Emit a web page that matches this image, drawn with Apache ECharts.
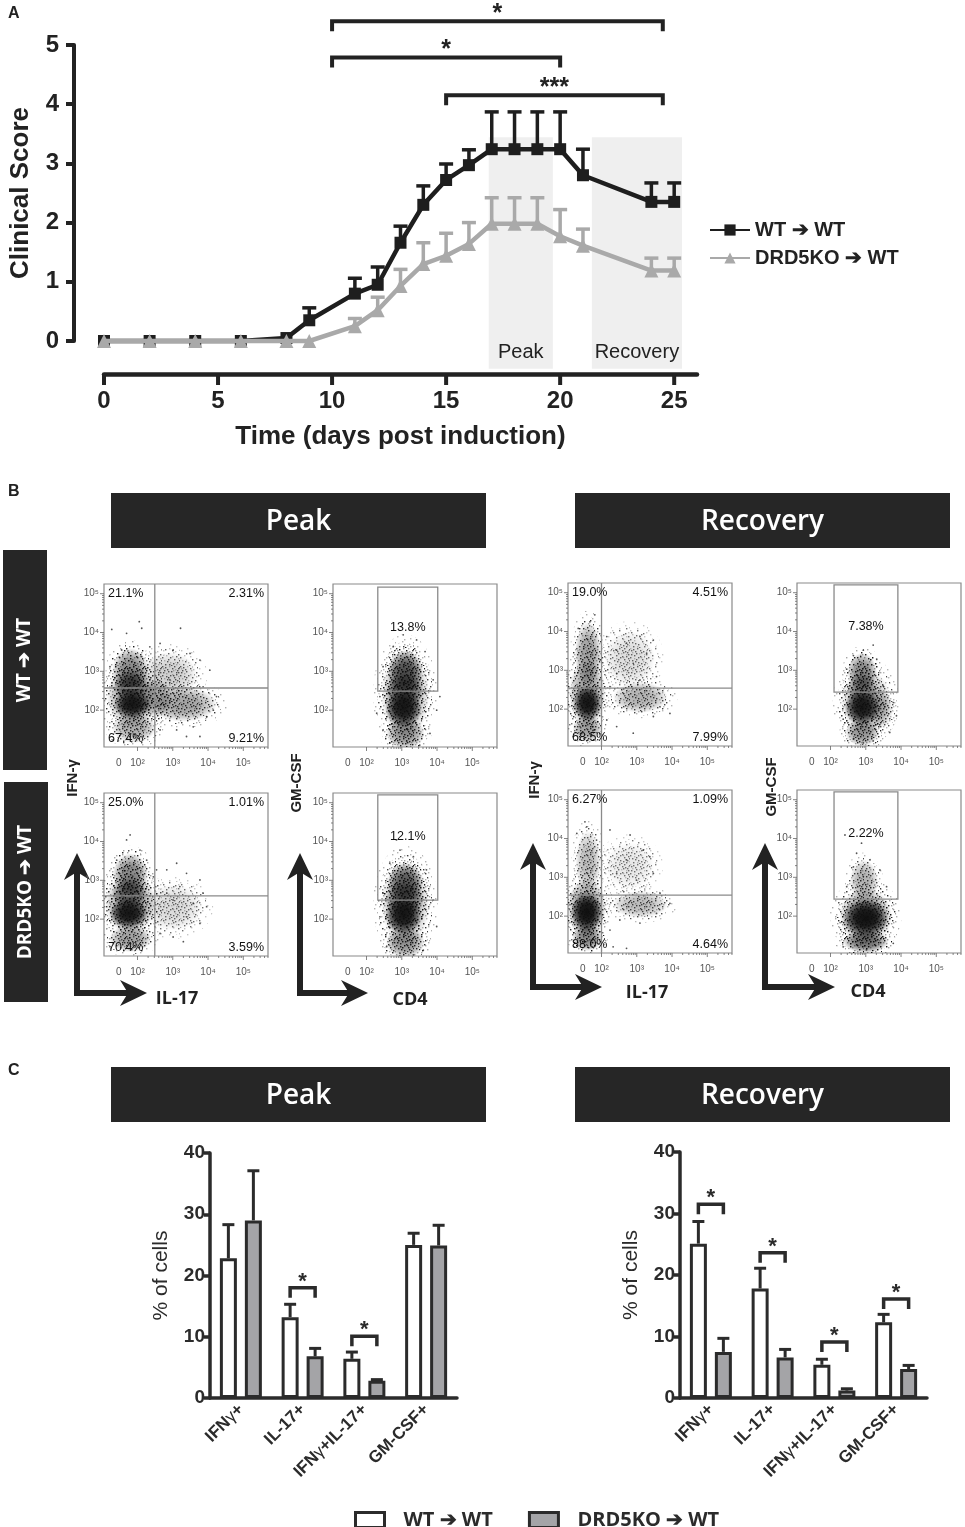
<!DOCTYPE html>
<html>
<head>
<meta charset="utf-8">
<script src="https://cdn.jsdelivr.net/npm/echarts@6.0.0/dist/echarts.min.js"></script>
<style>
html,body{margin:0;padding:0;background:#fff;}
#chart{width:965px;height:1527px;}
</style>
</head>
<body>
<div id="chart"></div>
<script>
// ================= DATA =================
// Panel A: clinical score (mean and upper error)
const scoreDays    = [0,2,4,6,8,9,11,12,13,14,15,16,17,18,19,20,21,24,25];
const wtScore      = [0,0,0,0,0.05,0.35,0.80,0.95,1.66,2.30,2.72,2.97,3.24,3.24,3.24,3.24,2.80,2.35,2.35];
const wtScoreUpper = [0,0,0,0,0.05,0.56,1.06,1.25,1.94,2.62,2.99,3.23,3.87,3.87,3.87,3.87,3.24,2.67,2.67];
const koScore      = [0,0,0,0,0,0,0.25,0.52,0.93,1.30,1.44,1.64,1.98,1.98,1.98,1.77,1.61,1.19,1.19];
const koScoreUpper = [0,0,0,0,0,0,0.38,0.74,1.21,1.66,1.82,2.00,2.42,2.42,2.42,2.22,1.89,1.40,1.40];
const dayTicks     = [0,5,10,15,20,25];
const phaseWindows = [[16.87,19.68],[21.39,25.34]];
const phaseNames   = ['Peak','Recovery'];
const phaseSpan    = [-0.47,3.44];
const scoreBrackets = [[10,24.5,5.40],[10,20,4.79],[15,24.5,4.15]];
const scoreBracketText = ['*','*','***'];
const seriesNames = ['WT ➔ WT','DRD5KO ➔ WT'];

// Panel B: flow cytometry (pseudo-log axis units: 2 = 10^2 ...)
const flowXRange = [1.05,5.7];
const flowYRange = [1.05,5.25];
const flowXTicks = [1.47,2,3,4,5];
const flowXTickText = ['0','10²','10³','10⁴','10⁵'];
const flowYTicks = [2,3,4,5];
const flowYTickText = ['10²','10³','10⁴','10⁵'];

const quadPeakWT = [2.49,2.57];
const quadPeakKO = [2.49,2.60];
const quadRecWT  = [2.00,2.54];
const quadRecKO  = [2.00,2.54];
const pctPeakWT  = ['21.1%','2.31%','67.4%','9.21%'];
const pctPeakKO  = ['25.0%','1.01%','70.4%','3.59%'];
const pctRecWT   = ['19.0%','4.51%','68.5%','7.99%'];
const pctRecKO   = ['6.27%','1.09%','88.0%','4.64%'];
const gatePeakWT = [2.32,4.02,2.49,5.17];
const gatePeakKO = [2.32,4.02,2.49,5.20];
const gateRecWT  = [2.10,3.91,2.44,5.20];
const gateRecKO  = [2.10,3.91,2.44,5.20];
const gatePct    = ['13.8%','12.1%','7.38%','2.22%'];
const gateLabelY = 4.14;

// density clouds: [centreX, centreY, spreadX, spreadY, density]
const blobsPeakWTIfn = [[1.85,2.15,0.52,0.38,0.95],[1.85,2.35,0.72,0.8,0.4],[1.82,2.6,0.5,0.4,0.6],[1.8,3.0,0.52,0.6,0.5],[3.3,2.15,0.95,0.45,0.38],[2.9,2.9,0.8,0.6,0.2],[1.9,1.55,0.62,0.4,0.35],[2.5,2.3,0.5,0.5,0.35]];
const blobsPeakKOIfn = [[1.75,2.15,0.55,0.4,0.95],[1.8,2.4,0.72,0.8,0.4],[1.78,2.65,0.5,0.4,0.55],[1.8,3.15,0.5,0.55,0.5],[3.0,2.3,0.85,0.6,0.15],[1.8,1.5,0.6,0.35,0.4]];
const blobsPeakWTGm  = [[3.05,2.05,0.52,0.5,0.95],[3.1,2.95,0.5,0.6,0.65],[3.08,2.5,0.55,0.45,0.6],[3.1,2.4,0.68,1.15,0.35],[3.1,1.4,0.55,0.4,0.45]];
const blobsPeakKOGm  = [[3.05,2.1,0.52,0.5,0.95],[3.1,2.9,0.5,0.55,0.6],[3.08,2.5,0.55,0.45,0.55],[3.1,2.4,0.68,1.1,0.35],[3.1,1.4,0.55,0.4,0.45]];
const blobsRecWTIfn  = [[1.6,2.15,0.4,0.47,0.95],[1.6,2.4,0.52,0.9,0.4],[1.62,3.4,0.38,0.85,0.4],[3.1,2.3,0.78,0.4,0.32],[2.8,3.3,0.72,0.72,0.14],[1.6,1.5,0.42,0.35,0.4]];
const blobsRecKOIfn  = [[1.58,2.1,0.44,0.52,1.0],[1.58,2.2,0.55,0.78,0.45],[1.62,3.4,0.36,0.8,0.28],[3.1,2.3,0.78,0.35,0.28],[2.8,3.3,0.7,0.6,0.1],[1.6,1.45,0.43,0.35,0.5]];
const blobsRecWTGm   = [[2.9,2.05,0.5,0.47,0.95],[2.9,2.5,0.43,0.4,0.45],[2.9,2.95,0.42,0.5,0.5],[3.0,2.2,0.7,0.85,0.32],[2.9,1.4,0.48,0.35,0.45],[3.4,2.0,0.38,0.5,0.28]];
const blobsRecKOGm   = [[3.0,1.95,0.65,0.5,1.0],[3.0,2.0,0.75,0.72,0.45],[2.95,2.9,0.4,0.55,0.32],[3.0,1.35,0.65,0.3,0.6]];

// sparse events
const dotsPeakWTIfn = [[1.27,4.08],[2.05,4.28],[2.12,4.11],[1.69,3.98],[3.22,4.11],[2.64,3.72],[3.01,3.55],[3.49,3.46],[3.77,3.29],[4.05,3.03],[4.24,2.35],[4.15,2.0],[3.96,1.83],[3.58,1.57],[3.39,1.32],[3.11,1.49],[3.77,1.32],[1.31,1.23],[2.16,1.32],[2.12,3.38],[2.64,1.49],[3.86,2.6],[2.92,2.78],[2.35,3.63],[1.55,3.55],[1.22,3.12]];
const dotsPeakKOIfn = [[1.79,4.17],[1.69,4.04],[2.07,3.78],[2.26,3.52],[2.54,3.27],[2.83,3.27],[3.11,3.44],[3.39,3.18],[3.77,3.01],[3.2,2.84],[3.01,2.49],[3.58,2.41],[3.96,2.32],[3.39,2.06],[3.77,1.89],[3.01,1.54],[3.3,1.42],[2.64,1.63],[1.22,1.29],[2.45,3.09],[1.41,3.52],[2.83,2.67],[3.86,2.67]];
const dotsPeakWTGm  = [[3.04,3.94],[3.42,3.81],[2.76,3.64],[3.66,3.51],[2.47,3.12],[3.89,2.78],[2.38,2.35],[3.99,2.0],[2.47,1.49],[3.8,1.4],[2.66,1.15],[3.51,1.1],[3.14,1.19],[2.29,1.92],[4.08,2.35]];
const dotsPeakKOGm  = [[2.95,3.78],[3.33,3.61],[2.66,3.44],[3.7,3.27],[2.47,2.67],[3.89,2.49],[2.38,2.06],[3.99,1.81],[2.57,1.29],[3.61,1.2],[2.95,1.12],[3.33,1.08],[2.85,4.04]];
const dotsRecWTIfn  = [[1.81,4.43],[1.67,4.25],[1.34,4.08],[2.15,3.87],[2.43,3.52],[2.71,3.7],[3.09,3.87],[3.47,3.78],[3.28,3.44],[2.9,3.18],[2.43,2.92],[3.56,2.84],[3.66,2.06],[3.47,1.81],[3.94,1.89],[2.9,1.38],[2.43,1.55],[2.15,1.72],[1.39,1.55],[1.77,1.46],[2.24,2.58],[3.09,2.75],[1.96,3.27]];
const dotsRecKOIfn  = [[1.53,4.43],[1.58,4.3],[1.86,3.96],[2.24,4.22],[2.81,4.09],[3.18,3.7],[3.37,3.53],[2.71,3.45],[2.43,3.1],[3.47,3.1],[2.99,2.93],[3.66,2.59],[3.94,2.33],[3.56,2.07],[3.09,1.82],[2.52,1.9],[2.24,1.64],[2.71,1.17],[2.33,1.21],[1.3,4.13]];
const dotsRecWTGm   = [[3.21,3.65],[2.93,3.52],[2.65,3.38],[3.31,3.29],[2.46,3.03],[3.49,2.6],[3.78,2.17],[3.87,1.83],[2.36,1.74],[2.65,1.23],[3.21,1.18],[3.68,1.4],[2.93,1.13]];
const dotsRecKOGm   = [[2.41,4.09],[2.88,3.88],[2.74,3.62],[3.12,3.45],[2.65,3.27],[3.4,3.19],[2.93,3.02],[3.59,2.76],[2.46,2.76],[2.36,1.21],[3.78,1.3],[3.02,1.13]];

// Panel C: % of cells (mean and upper error)
const cellCats    = ['IFNγ+','IL-17+','IFNγ+IL-17+','GM-CSF+'];
const peakWT      = [22.8,13.2,6.4,25.0];
const peakWTUpper = [28.3,15.3,7.5,26.9];
const peakKO      = [29.0,6.8,2.8,24.9];
const peakKOUpper = [37.1,8.1,3.0,28.2];
const recWT       = [25.1,17.8,5.4,12.3];
const recWTUpper  = [28.7,21.1,6.3,13.6];
const recKO       = [7.5,6.6,1.2,4.7];
const recKOUpper  = [9.7,7.9,1.5,5.3];
const peakSig = [[1,18.0],[2,10.1]];
const recSig  = [[0,31.5],[1,23.6],[2,9.1],[3,16.1]];
const barLegendNames = ['WT ➔ WT ','DRD5KO ➔ WT '];

// ================= STYLE =================
const FS = "'Liberation Sans',Arial,sans-serif";
const FO = "'Open Sans','Noto Sans',sans-serif";
const INK = '#222';
const BARINK = '#2b2b2b';

// fixed stipple tiles giving the cytometry clouds their dotted texture
function makeTile(pts){
  const c = document.createElement('canvas'); c.width = 18; c.height = 18;
  const g = c.getContext('2d'); g.fillStyle = 'rgba(15,15,15,1)';
  pts.forEach(p => g.fillRect(p[0], p[1], 1.4, 1.4));
  return c;
}
const speckleTiles = [
  makeTile([[1,2],[7,0],[13,3],[4,7],[10,8],[16,10],[2,12],[8,14],[14,16],[11,4]]),
  makeTile([[3,1],[10,2],[16,6],[6,5],[0,9],[12,11],[5,13],[9,17],[15,14],[17,1]]),
  makeTile([[5,3],[12,0],[1,6],[8,9],[14,8],[3,16],[11,15],[17,12],[6,11],[15,4]]),
  makeTile([[0,0],[9,5],[4,10],[13,13],[7,16],[16,2],[2,4],[11,9],[17,15],[14,6]])
];

const chart = echarts.init(document.getElementById('chart'), null, {renderer:'canvas', width:965, height:1527});

const grids = [], xAxes = [], yAxes = [], series = [];

// ---------- Panel A ----------
const AX_OFFSET = 33;
grids.push({left:103, top:45, width:594, height:296});
xAxes.push({gridIndex:0, type:'value', min:0, max:26, interval:5, offset:AX_OFFSET,
  axisLine:{onZero:false, lineStyle:{color:INK,width:4.5}}, axisTick:{show:false},
  splitLine:{show:false},
  axisLabel:{fontFamily:FS, fontWeight:'bold', fontSize:24, color:INK, margin:15,
    formatter:v => (dayTicks.indexOf(v) >= 0) ? String(v) : ''},
  name:'Time (days post induction)', nameLocation:'middle', nameGap:50,
  nameTextStyle:{fontFamily:FS, fontWeight:'bold', fontSize:26, color:INK}});
yAxes.push({gridIndex:0, type:'value', min:0, max:5, interval:1, offset:30,
  axisLine:{show:true, onZero:false, lineStyle:{color:INK,width:4}}, axisTick:{show:true,length:8,lineStyle:{color:INK,width:4}},
  splitLine:{show:false},
  axisLabel:{fontFamily:FS, fontWeight:'bold', fontSize:24, color:INK, margin:15},
  name:'Clinical Score', nameLocation:'middle', nameGap:40, nameRotate:90,
  nameTextStyle:{fontFamily:FS, fontWeight:'bold', fontSize:26, color:INK}});

// x ticks of the detached time axis
series.push({type:'custom', xAxisIndex:0, yAxisIndex:0, silent:true, clip:false, z:1,
  data: dayTicks.map(d => [d, 0]),
  renderItem:(params, api) => {
    const p = api.coord([api.value(0), 0]);
    const y = p[1] + AX_OFFSET;
    return {type:'line', shape:{x1:p[0], y1:y, x2:p[0], y2:y+11}, style:{stroke:INK, lineWidth:4}};
  }});

series.push({type:'custom', xAxisIndex:0, yAxisIndex:0, silent:true, clip:false, z:1,
  data: phaseWindows.map(w => [w[0], w[1]]),
  renderItem:(params, api) => {
    const a = api.coord([api.value(0), phaseSpan[1]]);
    const b = api.coord([api.value(1), phaseSpan[0]]);
    const m = api.coord([(api.value(0)+api.value(1))/2, -0.2]);
    return {type:'group', children:[
      {type:'rect', shape:{x:a[0], y:a[1], width:b[0]-a[0], height:b[1]-a[1]}, style:{fill:'#efefef'}},
      {type:'text', x:m[0], y:m[1], style:{text:phaseNames[params.dataIndex], fill:INK, font:'20px '+FS, align:'center', verticalAlign:'middle'}}
    ]};
  }});

function scoreErr(color){
  return (params, api) => {
    const p0 = api.coord([api.value(0), api.value(1)]);
    const p1 = api.coord([api.value(0), api.value(2)]);
    return {type:'group', children:[
      {type:'line', shape:{x1:p0[0],y1:p0[1],x2:p1[0],y2:p1[1]}, style:{stroke:color,lineWidth:3.5}},
      {type:'line', shape:{x1:p1[0]-7,y1:p1[1],x2:p1[0]+7,y2:p1[1]}, style:{stroke:color,lineWidth:3.5}}
    ]};
  };
}
const WTC = '#1e1e1e', KOC = '#a9a9a9';
series.push({type:'custom', xAxisIndex:0, yAxisIndex:0, silent:true, clip:false, z:2,
  data: scoreDays.map((d,i)=>[d, wtScore[i], wtScoreUpper[i]]).filter(r => r[2] > r[1]),
  renderItem: scoreErr(WTC)});
series.push({type:'custom', xAxisIndex:0, yAxisIndex:0, silent:true, clip:false, z:2,
  data: scoreDays.map((d,i)=>[d, koScore[i], koScoreUpper[i]]).filter(r => r[2] > r[1]),
  renderItem: scoreErr(KOC)});
series.push({type:'line', name:seriesNames[0], xAxisIndex:0, yAxisIndex:0, z:3, clip:false,
  data: scoreDays.map((d,i)=>[d, wtScore[i]]), symbol:'rect', symbolSize:12, showAllSymbol:true,
  lineStyle:{color:WTC,width:4.5}, itemStyle:{color:WTC}});
series.push({type:'line', name:seriesNames[1], xAxisIndex:0, yAxisIndex:0, z:4, clip:false,
  data: scoreDays.map((d,i)=>[d, koScore[i]]), symbol:'triangle', symbolSize:14, showAllSymbol:true,
  lineStyle:{color:KOC,width:4.5}, itemStyle:{color:KOC}});
series.push({type:'custom', xAxisIndex:0, yAxisIndex:0, silent:true, clip:false, z:5,
  data: scoreBrackets,
  renderItem:(params, api) => {
    const a = api.coord([api.value(0), api.value(2)]);
    const b = api.coord([api.value(1), api.value(2)]);
    const y = a[1];
    return {type:'group', children:[
      {type:'polyline', shape:{points:[[a[0],y+10],[a[0],y],[b[0],y],[b[0],y+10]]}, style:{stroke:INK,lineWidth:4,fill:null}},
      {type:'text', x:(a[0]+b[0])/2, y:y+5, style:{text:scoreBracketText[params.dataIndex], fill:INK, font:'bold 25px '+FS, align:'center', verticalAlign:'bottom'}}
    ]};
  }});

// ---------- Panel B ----------
const flowLayout = [[104,584],[333,584],[568,583],[797,583],[104,793],[333,793],[568,790],[797,790]];
const flowCfg = [
  {kind:'quad', cut:quadPeakWT, pct:pctPeakWT, blobs:blobsPeakWTIfn, dots:dotsPeakWTIfn},
  {kind:'gate', cut:gatePeakWT, pct:gatePct[0], blobs:blobsPeakWTGm, dots:dotsPeakWTGm},
  {kind:'quad', cut:quadRecWT, pct:pctRecWT, blobs:blobsRecWTIfn, dots:dotsRecWTIfn},
  {kind:'gate', cut:gateRecWT, pct:gatePct[2], blobs:blobsRecWTGm, dots:dotsRecWTGm},
  {kind:'quad', cut:quadPeakKO, pct:pctPeakKO, blobs:blobsPeakKOIfn, dots:dotsPeakKOIfn},
  {kind:'gate', cut:gatePeakKO, pct:gatePct[1], blobs:blobsPeakKOGm, dots:dotsPeakKOGm},
  {kind:'quad', cut:quadRecKO, pct:pctRecKO, blobs:blobsRecKOIfn, dots:dotsRecKOIfn},
  {kind:'gate', cut:gateRecKO, pct:gatePct[3], blobs:blobsRecKOGm, dots:dotsRecKOGm}
];

function blobRender(params, api){
  const cx = api.value(0), cy = api.value(1), d = api.value(4);
  const c = api.coord([cx, cy]);
  const e = api.coord([cx + api.value(2), cy + api.value(3)]);
  const sx = Math.abs(e[0]-c[0]), sy = Math.abs(c[1]-e[1]);
  const k = params.dataIndex;
  const op = Math.min(1, d + 0.45);
  const sp = (f, t, o) => ({type:'ellipse', silent:true, shape:{cx:c[0], cy:c[1], rx:sx*f, ry:sy*f},
    style:{fill:{image:speckleTiles[t], repeat:'repeat'}, opacity:o}});
  const a = Math.min(1, d * 1.02);
  return {type:'group', children:[
    {type:'circle', x:c[0], y:c[1], scaleX:sx, scaleY:sy, shape:{cx:0,cy:0,r:1}, silent:true,
      style:{fill:new echarts.graphic.RadialGradient(0.5,0.5,0.5,[
        {offset:0, color:'rgba(15,15,15,'+a.toFixed(3)+')'},
        {offset:0.45, color:'rgba(15,15,15,'+(a*0.9).toFixed(3)+')'},
        {offset:0.75, color:'rgba(15,15,15,'+(a*0.5).toFixed(3)+')'},
        {offset:1, color:'rgba(15,15,15,0)'}])}},
    sp(1.35, (k+3) % 4, op*0.4), sp(1.15, k % 4, op), sp(0.9, (k+1) % 4, op), sp(0.6, (k+2) % 4, op)
  ]};
}

function flowDeco(cfg){
  return (params, api) => {
    const cs = params.coordSys;
    const L = cs.x, T = cs.y, R = cs.x + cs.width, B = cs.y + cs.height;
    const gray = '#8a8a8a';
    const ch = [];
    const lab = (x, y, t, align, va, size, color) => ({type:'text', x:x, y:y, silent:true,
      style:{text:t, fill:color || '#111', font:(size || 12.5) + 'px ' + FS, align:align, verticalAlign:va}});
    if (cfg.kind === 'quad'){
      const vx = api.coord([cfg.cut[0], flowYRange[0]])[0];
      const hy = api.coord([flowXRange[0], cfg.cut[1]])[1];
      ch.push({type:'line', shape:{x1:vx,y1:T,x2:vx,y2:B}, style:{stroke:gray,lineWidth:1.3}});
      ch.push({type:'line', shape:{x1:L,y1:hy,x2:R,y2:hy}, style:{stroke:gray,lineWidth:1.3}});
      ch.push(lab(L+4, T+3, cfg.pct[0], 'left', 'top'));
      ch.push(lab(R-4, T+3, cfg.pct[1], 'right', 'top'));
      ch.push(lab(L+4, B-2, cfg.pct[2], 'left', 'bottom'));
      ch.push(lab(R-4, B-2, cfg.pct[3], 'right', 'bottom'));
    } else {
      const p1 = api.coord([cfg.cut[0], cfg.cut[3]]);
      const p2 = api.coord([cfg.cut[1], cfg.cut[2]]);
      ch.push({type:'rect', shape:{x:p1[0], y:p1[1], width:p2[0]-p1[0], height:p2[1]-p1[1]}, style:{fill:'none', stroke:gray, lineWidth:1.3}});
      const pl = api.coord([(cfg.cut[0]+cfg.cut[1])/2, gateLabelY]);
      ch.push(lab(pl[0], pl[1], cfg.pct, 'center', 'middle'));
    }
    flowXTicks.forEach((v, i) => {
      const x = api.coord([v, flowYRange[0]])[0];
      ch.push(lab(x, B+11, flowXTickText[i], 'center', 'top', 10, '#555'));
    });
    flowYTicks.forEach((v, i) => {
      const y = api.coord([flowXRange[0], v])[1];
      ch.push(lab(L-5, y, flowYTickText[i], 'right', 'middle', 10, '#555'));
    });
    for (let dec = 2; dec <= 5; dec++){
      for (let k = 1; k <= 9; k++){
        const v = dec + Math.log10(k);
        const len = k === 1 ? 4 : 2;
        if (v <= flowYRange[1]){
          const y = api.coord([flowXRange[0], v])[1];
          ch.push({type:'line', shape:{x1:L-len,y1:y,x2:L,y2:y}, style:{stroke:'#666',lineWidth:0.8}});
        }
        if (v <= flowXRange[1]){
          const x = api.coord([v, flowYRange[0]])[0];
          ch.push({type:'line', shape:{x1:x,y1:B,x2:x,y2:B+len}, style:{stroke:'#666',lineWidth:0.8}});
        }
      }
    }
    return {type:'group', children:ch};
  };
}

flowCfg.forEach((cfg, i) => {
  const gi = grids.length;
  grids.push({left:flowLayout[i][0], top:flowLayout[i][1], width:164, height:163, show:true, borderColor:'#8a8a8a', borderWidth:1.2});
  xAxes.push({gridIndex:gi, type:'value', min:flowXRange[0], max:flowXRange[1], show:false});
  yAxes.push({gridIndex:gi, type:'value', min:flowYRange[0], max:flowYRange[1], show:false});
  series.push({type:'custom', xAxisIndex:gi, yAxisIndex:gi, silent:true, clip:true, z:1, data:cfg.blobs, renderItem:blobRender});
  series.push({type:'scatter', xAxisIndex:gi, yAxisIndex:gi, silent:true, z:2, data:cfg.dots, symbolSize:1.8, itemStyle:{color:'#2a2a2a'}});
  series.push({type:'custom', xAxisIndex:gi, yAxisIndex:gi, silent:true, clip:false, z:3, data:[[flowXRange[0], flowYRange[0]]], renderItem:flowDeco(cfg)});
});

// ---------- Panel C ----------
function barErr(offset){
  return (params, api) => {
    const c0 = api.coord([api.value(0), api.value(1)]);
    const c1 = api.coord([api.value(0), api.value(2)]);
    const x = c0[0] + offset;
    return {type:'group', children:[
      {type:'line', shape:{x1:x,y1:c0[1],x2:x,y2:c1[1]}, style:{stroke:BARINK,lineWidth:3}},
      {type:'line', shape:{x1:x-6,y1:c1[1],x2:x+6,y2:c1[1]}, style:{stroke:BARINK,lineWidth:3}}
    ]};
  };
}
function sigRender(half){
  return (params, api) => {
    const c = api.coord([api.value(0), api.value(1)]);
    const x1 = c[0]-half, x2 = c[0]+half, y = c[1];
    return {type:'group', children:[
      {type:'polyline', shape:{points:[[x1,y+10],[x1,y],[x2,y],[x2,y+10]]}, style:{stroke:BARINK,lineWidth:3.5,fill:null}},
      {type:'text', x:(x1+x2)/2, y:y+5, style:{text:'*', fill:BARINK, font:'bold 22px '+FS, align:'center', verticalAlign:'bottom'}}
    ]};
  };
}
const barPanels = [
  {grid:{left:210, top:1153, width:247, height:245}, wt:peakWT, wtU:peakWTUpper, ko:peakKO, koU:peakKOUpper, sig:peakSig},
  {grid:{left:680, top:1152, width:247, height:246}, wt:recWT, wtU:recWTUpper, ko:recKO, koU:recKOUpper, sig:recSig}
];
barPanels.forEach(p => {
  const gi = grids.length;
  grids.push(p.grid);
  xAxes.push({gridIndex:gi, type:'category', data:cellCats,
    axisLine:{lineStyle:{color:BARINK,width:3.5}},
    axisTick:{alignWithLabel:true, length:7, lineStyle:{color:BARINK,width:3.5}},
    axisLabel:{interval:0, rotate:45, fontFamily:FS, fontWeight:'bold', fontSize:17, color:BARINK, margin:9,
      formatter:v => v.replace(/γ/g, '{g|γ}'),
      rich:{g:{fontFamily:FS, fontWeight:'normal', fontSize:17, color:BARINK}}}});
  yAxes.push({gridIndex:gi, type:'value', min:0, max:40, interval:10,
    axisLine:{show:true, lineStyle:{color:BARINK,width:3.5}},
    axisTick:{show:true, length:6, lineStyle:{color:BARINK,width:3.5}},
    splitLine:{show:false},
    axisLabel:{fontFamily:FS, fontWeight:'bold', fontSize:19, color:BARINK, margin:5},
    name:'% of cells', nameLocation:'middle', nameRotate:90, nameGap:38,
    nameTextStyle:{fontFamily:FS, fontSize:21, color:BARINK}});
  series.push({type:'bar', name:barLegendNames[0], xAxisIndex:gi, yAxisIndex:gi, data:p.wt, barWidth:17, barGap:'47%', z:2,
    itemStyle:{color:'#ffffff', borderColor:BARINK, borderWidth:3}});
  series.push({type:'bar', name:barLegendNames[1], xAxisIndex:gi, yAxisIndex:gi, data:p.ko, barWidth:17, barGap:'47%', z:2,
    itemStyle:{color:'#a4a4a7', borderColor:BARINK, borderWidth:3}});
  series.push({type:'custom', xAxisIndex:gi, yAxisIndex:gi, silent:true, clip:false, z:1,
    data:cellCats.map((c,i)=>[i, p.wt[i], p.wtU[i]]), renderItem:barErr(-12.5)});
  series.push({type:'custom', xAxisIndex:gi, yAxisIndex:gi, silent:true, clip:false, z:1,
    data:cellCats.map((c,i)=>[i, p.ko[i], p.koU[i]]), renderItem:barErr(12.5)});
  series.push({type:'custom', xAxisIndex:gi, yAxisIndex:gi, silent:true, clip:false, z:3,
    data:p.sig, renderItem:sigRender(12.5)});
});

// ---------- decorations ----------
const graphics = [];
[['A',8,6],['B',8,484],['C',8,1063]].forEach(t => graphics.push({type:'text', left:t[1], top:t[2],
  style:{text:t[0], fill:INK, font:'bold 16px '+FS}}));
[[111,493,'Peak'],[575,493,'Recovery'],[111,1067,'Peak'],[575,1067,'Recovery']].forEach(h => {
  graphics.push({type:'rect', shape:{x:h[0], y:h[1], width:375, height:55}, style:{fill:'#262626'}});
  graphics.push({type:'text', x:h[0]+187.5, y:h[1]+29, style:{text:h[2], fill:'#fff', font:'600 28px '+FO, align:'center', verticalAlign:'middle'}});
});
[[3,550,220,'WT ➔ WT'],[4,782,220,'DRD5KO ➔ WT']].forEach(r => {
  graphics.push({type:'rect', shape:{x:r[0], y:r[1], width:44, height:r[2]}, style:{fill:'#262626'}});
  graphics.push({type:'text', x:r[0]+22, y:r[1]+r[2]/2, rotation:Math.PI/2,
    style:{text:r[3], fill:'#fff', font:'bold 19px '+FO, align:'center', verticalAlign:'middle'}});
});
// big axis arrows: [x, apexTopY, cornerY, apexRightX]
[[77,853,993,147],[300,853,993,368],[533,843,987,602],[765,843,987,835]].forEach(a => {
  const [x, ty, cy, rx] = a;
  graphics.push({type:'polyline', shape:{points:[[x,ty+18],[x,cy],[rx-18,cy]]}, style:{stroke:INK, lineWidth:6, fill:null, lineJoin:'miter'}});
  graphics.push({type:'polygon', shape:{points:[[x,ty],[x-13,ty+27],[x,ty+19],[x+13,ty+27]]}, style:{fill:INK}});
  graphics.push({type:'polygon', shape:{points:[[rx,cy],[rx-27,cy-13],[rx-19,cy],[rx-27,cy+13]]}, style:{fill:INK}});
});
[[177,999,'IL-17'],[410,1000,'CD4'],[647,993,'IL-17'],[868,992,'CD4']].forEach(t => graphics.push({type:'text', x:t[0], y:t[1],
  style:{text:t[2], fill:INK, font:'bold 18px '+FO, align:'center', verticalAlign:'middle'}}));
[[73,778,'IFN-γ'],[297,783,'GM-CSF'],[535,780,'IFN-γ'],[772,787,'GM-CSF']].forEach(t => graphics.push({type:'text', x:t[0], y:t[1], rotation:Math.PI/2,
  style:{text:t[2], fill:INK, font:'bold 15px '+FS, align:'center', verticalAlign:'middle'}}));

const option = {
  animation:false,
  backgroundColor:'#ffffff',
  textStyle:{fontFamily:FS},
  grid:grids, xAxis:xAxes, yAxis:yAxes,
  legend:[
    {data:seriesNames, left:704, top:215, orient:'vertical', itemGap:8, itemWidth:40, itemHeight:14, selectedMode:false,
      textStyle:{fontFamily:FS, fontWeight:'bold', fontSize:20, color:INK}},
    {data:[
      {name:barLegendNames[0], icon:'rect', itemStyle:{color:'#ffffff', borderColor:BARINK, borderWidth:3}},
      {name:barLegendNames[1], icon:'rect', itemStyle:{color:'#a4a4a7', borderColor:BARINK, borderWidth:3}}],
      left:349, top:1505, itemGap:30, itemWidth:29, itemHeight:15, selectedMode:false,
      textStyle:{fontFamily:FO, fontWeight:'bold', fontSize:20, color:BARINK, padding:[0,0,0,14]}}
  ],
  graphic:graphics,
  series:series
};
chart.setOption(option);
</script>
</body>
</html>
